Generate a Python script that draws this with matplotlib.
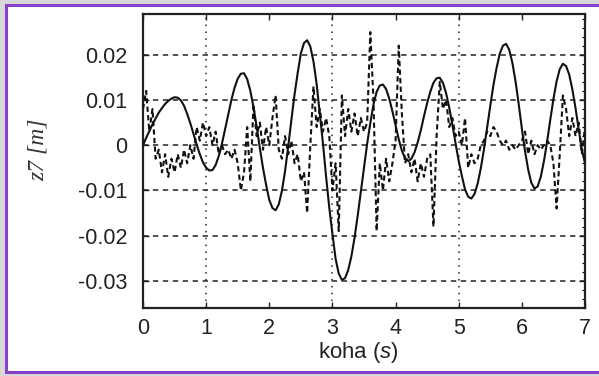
import numpy as np
import matplotlib
matplotlib.use("Agg")
import matplotlib.pyplot as plt
from matplotlib.patches import Rectangle
from matplotlib.ticker import MultipleLocator

# time axis samples (s)
t = np.round(np.arange(0, 7.0001, 0.05), 2)

# smooth response (solid)
z_solid = [
    0.0000, 0.0016, 0.0031, 0.0046, 0.0059, 0.0072, 0.0082, 0.0091, 0.0098, 0.0103,
    0.0106, 0.0105, 0.0099, 0.0087, 0.0069, 0.0048, 0.0025, 0.0001, -0.0020, -0.0038,
    -0.0050, -0.0056, -0.0055, -0.0044, -0.0024, 0.0003, 0.0035, 0.0068, 0.0100, 0.0127,
    0.0147, 0.0158, 0.0159, 0.0146, 0.0120, 0.0084, 0.0041, -0.0006, -0.0050, -0.0088,
    -0.0121, -0.0139, -0.0144, -0.0131, -0.0101, -0.0057, -0.0003, 0.0056, 0.0112, 0.0160,
    0.0203, 0.0226, 0.0232, 0.0218, 0.0185, 0.0135, 0.0070, 0.0004, -0.0070, -0.0138,
    -0.0196, -0.0251, -0.0284, -0.0298, -0.0294, -0.0276, -0.0246, -0.0205, -0.0156, -0.0103,
    -0.0049, 0.0003, 0.0049, 0.0090, 0.0118, 0.0132, 0.0134, 0.0124, 0.0103, 0.0075,
    0.0044, 0.0013, -0.0012, -0.0029, -0.0035, -0.0030, -0.0016, 0.0006, 0.0033, 0.0064,
    0.0093, 0.0118, 0.0138, 0.0148, 0.0149, 0.0138, 0.0115, 0.0083, 0.0045, 0.0004,
    -0.0035, -0.0068, -0.0098, -0.0114, -0.0118, -0.0108, -0.0085, -0.0051, -0.0009, 0.0039,
    0.0087, 0.0133, 0.0171, 0.0202, 0.0220, 0.0224, 0.0211, 0.0182, 0.0141, 0.0091,
    0.0037, -0.0013, -0.0054, -0.0083, -0.0096, -0.0091, -0.0070, -0.0035, 0.0008, 0.0056,
    0.0102, 0.0141, 0.0168, 0.0180, 0.0175, 0.0156, 0.0123, 0.0082, 0.0035, -0.0010,
    -0.0040,
]

# noisy response (dashed)
z_dashed = [
    0.008, 0.012, 0.003, 0.008, -0.003, -0.001, -0.006, -0.002, -0.007, -0.003,
    -0.006, -0.002, -0.005, -0.001, -0.004, 0.000, -0.003, 0.004, 0.001, 0.005,
    0.002, 0.004, 0.000, 0.003, -0.002, 0.000, -0.002, -0.001, -0.003, -0.001,
    -0.004, -0.010, -0.006, 0.004, -0.008, 0.009, 0.002, 0.005, -0.001, 0.004,
    0.000, 0.006, 0.011, -0.001, -0.003, 0.002, -0.002, 0.001, -0.004, -0.002,
    -0.008, -0.006, -0.015, 0.000, 0.013, 0.004, 0.008, 0.003, 0.006, 0.002,
    -0.010, -0.004, -0.019, 0.011, 0.002, 0.008, 0.003, 0.007, 0.002, 0.006,
    0.003, 0.005, 0.025, 0.010, -0.019, -0.004, -0.010, -0.003, -0.008, -0.004,
    0.001, 0.022, 0.007, -0.004, -0.002, -0.006, -0.003, -0.008, -0.004, -0.007,
    -0.003, -0.002, -0.018, 0.002, 0.014, 0.008, 0.010, 0.004, 0.006, 0.002,
    0.003, 0.000, 0.006, -0.005, -0.002, -0.004, -0.003, 0.000, 0.001, 0.003,
    0.002, 0.004, 0.003, 0.001, 0.000, 0.001, -0.001, 0.000, -0.001, 0.000,
    0.001, 0.003, -0.002, 0.001, -0.002, 0.000, -0.001, 0.000, 0.001, 0.000,
    -0.004, -0.014, -0.002, 0.011, 0.008, 0.002, 0.006, 0.002, 0.005, -0.002,
    0.004,
]

x_ticks = [0, 1, 2, 3, 4, 5, 6, 7]
y_ticks = [-0.03, -0.02, -0.01, 0, 0.01, 0.02]
y_ticklabels = ["-0.03", "-0.02", "-0.01", "0", "0.01", "0.02"]
x_grid = [1, 3, 5]

plt.rcParams["font.family"] = ["Liberation Sans", "DejaVu Sans"]
plt.rcParams["mathtext.fontset"] = "custom"
plt.rcParams["mathtext.it"] = "Liberation Sans:italic"
plt.rcParams["mathtext.rm"] = "Liberation Sans"
fig = plt.figure(figsize=(5.99, 3.76), dpi=100, facecolor="#d8d8d8")
W, H = 599, 376
frame = Rectangle((6 / W, 1 - 372 / H), 620 / W, 367 / H, transform=fig.transFigure,
                  facecolor="white", edgecolor="#8a3fc8", lw=2.2, zorder=-5)
fig.patches.append(frame)

ax = fig.add_axes([143 / W, 1 - 308 / H, 442 / W, 294 / H], zorder=2)
ax.plot(t, z_solid, color="#111111", lw=1.5, zorder=3)
ax.plot(t, z_dashed, color="#111111", lw=1.5, ls=(0, (2.5, 1.6)), zorder=3)

ax.set_xlim(0, 7)
ax.set_ylim(-0.036, 0.029)
ax.set_xticks(x_ticks)
ax.set_yticks(y_ticks)
ax.set_yticklabels(y_ticklabels)
for y in y_ticks:
    ax.axhline(y, color="#222222", lw=1.1, ls=(0, (3.5, 3)), zorder=1)
for x in x_grid:
    ax.axvline(x, color="#222222", lw=1.1, ls=(0, (1, 3.5)), zorder=1)

ax.yaxis.set_minor_locator(MultipleLocator(0.002))
ax.tick_params(which="major", direction="in", top=True, right=True, length=4, width=1,
               labelsize=15.5, colors="#222222", pad=11)
ax.tick_params(which="minor", direction="in", left=False, right=True, length=2, width=0.8)
ax.tick_params(axis="x", pad=7)
for s in ax.spines.values():
    s.set_linewidth(1.6)
    s.set_color("#222222")

ax.set_xlabel(r"koha ($\mathit{s}$)", fontsize=16, color="#222222", labelpad=0)
ax.xaxis.set_label_coords((358 - 143) / 442, -0.11)
ax.xaxis.label.set_va("top")
fig.text(38 / W, 1 - 150 / H, "z7 [m]", rotation=90, ha="center", va="center",
         fontsize=17, color="#333333", family="Liberation Serif", style="italic")

fig.savefig("out.png", dpi=100, facecolor=fig.get_facecolor())
